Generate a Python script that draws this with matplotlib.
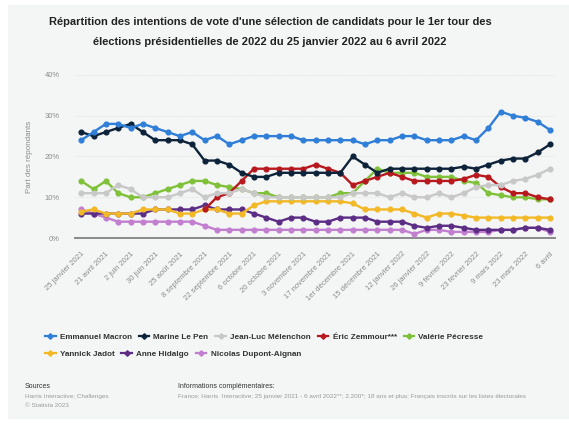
import matplotlib
matplotlib.use("Agg")
import matplotlib.pyplot as plt
import numpy as np
from matplotlib.lines import Line2D
from matplotlib.patches import Rectangle

plt.rcParams['font.family'] = ['Liberation Sans', 'DejaVu Sans']

dates = ["25 janvier 2021", "21 avril 2021", "2 juin 2021", "30 juin 2021", "25 août 2021",
         "8 septembre 2021", "22 septembre 2021", "6 octobre 2021", "20 octobre 2021",
         "3 novembre 2021", "17 novembre 2021", "1er décembre 2021", "15 décembre 2021",
         "12 janvier 2022", "26 janvier 2022", "9 février 2022", "23 février 2022",
         "9 mars 2022", "23 mars 2022", "6 avril"]

nan = np.nan
macron = [24, 26, 28, 28, 27, 28, 27, 26, 25, 26,
          24, 25, 23, 24, 25, 25, 25, 25, 24, 24,
          24, 24, 24, 23, 24, 24, 25, 25, 24, 24,
          24, 25, 24, 27, 31, 30, 29.5, 28.5, 26.5]
lepen = [26, 25, 26, 27, 28, 26, 24, 24, 24, 23,
         19, 19, 18, 16, 15, 15, 16, 16, 16, 16,
         16, 16, 20, 18, 16, 17, 17, 17, 17, 17,
         17, 17.5, 17, 18, 19, 19.5, 19.5, 21, 23]
melenchon = [11, 11, 11, 13, 12, 10, 10, 10, 11, 12,
             10, 11, 11, 12, 11, 10, 10, 10, 10, 10,
             10, 10, 11, 11, 11, 10, 11, 10, 10, 11,
             10, 11, 12.5, 13, 13, 14, 14.5, 15.5, 17]
zemmour = [nan, nan, nan, nan, nan, nan, nan, nan, nan, nan,
           7, 10, 11, 14, 17, 17, 17, 17, 17, 18,
           17, 16, 13, 14, 15, 16, 15, 14, 14, 14,
           14, 14.5, 15.5, 15, 12.5, 11, 11, 10, 9.5]
pecresse = [14, 12, 14, 11, 10, 10, 11, 12, 13, 14,
            14, 13, 12.5, 12, 11, 11, 10, 10, 10, 10,
            10, 11, 11, 14, 17, 16, 16, 16, 15, 15,
            15, 14, 13.5, 11, 10.5, 10, 10, 9.5, 9.5]
jadot = [6.5, 7, 6, 6, 6, 7, 7, 7, 6, 6,
         7, 7, 6, 6, 8, 9, 9, 9, 9, 9,
         9, 9, 8.5, 7, 7, 7, 7, 6, 5, 6,
         6, 5.5, 5, 5, 5, 5, 5, 5, 5]
hidalgo = [6, 6, 6, 6, 6, 6, 7, 7, 7, 7,
           8, 7, 7, 7, 6, 5, 4, 5, 5, 4,
           4, 5, 5, 5, 4, 4, 4, 3, 2.5, 3,
           3, 2.5, 2, 2, 2, 2, 2.5, 2.5, 2]
dupont = [7, 6, 5, 4, 4, 4, 4, 4, 4, 4,
          3, 2, 2, 2, 2, 2, 2, 2, 2, 2,
          2, 2, 2, 2, 2, 2, 2, 1, 2, 2,
          1.5, 1.5, 1.5, 1.5, 2, 2, 2.5, 2.5, 1.5]

names = ["Emmanuel Macron", "Marine Le Pen", "Jean-Luc Mélenchon", "Éric Zemmour***",
         "Valérie Pécresse", "Yannick Jadot", "Anne Hidalgo", "Nicolas Dupont-Aignan"]
series = [macron, lepen, melenchon, zemmour, pecresse, jadot, hidalgo, dupont]
colors = ["#2f7ed8", "#0d233a", "#c8c8c8", "#b8191f", "#80c13a", "#f2b826", "#5c2d84", "#c27fd0"]

W, H = 569, 423
fig = plt.figure(figsize=(W / 100, H / 100), dpi=100)
fig.patch.set_facecolor("white")
fig.patches.append(Rectangle((8 / W, 1 - 419 / H), 1 - 8 / W, (419 - 5) / H,
                             transform=fig.transFigure, facecolor="#f4f5f5",
                             edgecolor="none", zorder=-10))

ax = fig.add_axes([75 / W, 1 - 238 / H, (555 - 75) / W, (238 - 75) / H])
ax.set_facecolor("none")
ax.set_zorder(1)

x = np.arange(len(macron))
# draw in reverse so Macron sits on top
for name, vals, col in list(zip(names, series, colors))[::-1]:
    ax.plot(x, vals, color=col, lw=1.7, marker="o", ms=3.4, mec=col, mfc=col,
            label=name, zorder=3, solid_joinstyle="round")

ax.set_ylim(0, 40)
ax.set_xlim(-0.5, 38.4)
ax.set_yticks([0, 10, 20, 30, 40])
ax.set_yticklabels(["0%", "10%", "20%", "30%", "40%"])
ax.grid(axis="y", color="#e2e4e4", lw=0.7, linestyle=(0, (1, 1)))
ax.set_xticks(x[::2])
ax.set_xticklabels(dates, rotation=45, ha="right", va="top", rotation_mode="anchor")
ax.tick_params(axis="both", length=0, labelsize=5.5, labelcolor="#8c8c8c")
ax.tick_params(axis="y", pad=11)
ax.tick_params(axis="x", pad=9)
for s in ["top", "right", "left"]:
    ax.spines[s].set_visible(False)
ax.spines["bottom"].set_color("#8a8a8a")
ax.spines["bottom"].set_linewidth(1.4)
ax.set_ylabel("Part des répondants", fontsize=5.8, color="#8c8c8c", labelpad=8)

fig.text(270 / W, 1 - 22 / H,
         "Répartition des intentions de vote d'une sélection de candidats pour le 1er tour des",
         ha="center", va="center", fontsize=8.0, fontweight="bold", color="#222222")
fig.text(270 / W, 1 - 42 / H,
         "élections présidentielles de 2022 du 25 janvier 2022 au 6 avril 2022",
         ha="center", va="center", fontsize=8.0, fontweight="bold", color="#222222")

def handle(col):
    return Line2D([0], [0], color=col, lw=1.6, marker="D", ms=2.8, mec=col, mfc=col)

row1 = list(range(5))
row2 = list(range(5, 8))
legkw = dict(loc="center left", frameon=False, fontsize=5.9, handlelength=1.3,
             handletextpad=0.5, columnspacing=0.85, borderaxespad=0, borderpad=0)
leg1 = fig.legend([handle(colors[i]) for i in row1], [names[i] for i in row1],
                  bbox_to_anchor=(45 / W, 1 - 337 / H), ncol=5, **legkw)
for t in leg1.get_texts():
    t.set_color("#333333"); t.set_fontweight("bold")
leg2 = fig.legend([handle(colors[i]) for i in row2], [names[i] for i in row2],
                  bbox_to_anchor=(45 / W, 1 - 354 / H), ncol=3, **legkw)
for t in leg2.get_texts():
    t.set_color("#333333"); t.set_fontweight("bold")

fig.text(25 / W, 1 - 386 / H, "Sources", fontsize=5.0, color="#333333", va="center")
fig.text(25 / W, 1 - 396 / H, "Harris Interactive; Challenges", fontsize=4.6, color="#9a9a9a", va="center")
fig.text(25 / W, 1 - 405 / H, "© Statista 2023", fontsize=4.6, color="#9a9a9a", va="center")
fig.text(178 / W, 1 - 386 / H, "Informations complémentaires:", fontsize=5.0, color="#333333", va="center")
fig.text(178 / W, 1 - 396 / H,
         "France; Harris  Interactive; 25 janvier 2021 - 6 avril 2022**; 2.200*; 18 ans et plus; Français inscrits sur les listes électorales",
         fontsize=4.6, color="#9a9a9a", va="center")

fig.savefig("out.png", dpi=100, facecolor=fig.get_facecolor())
